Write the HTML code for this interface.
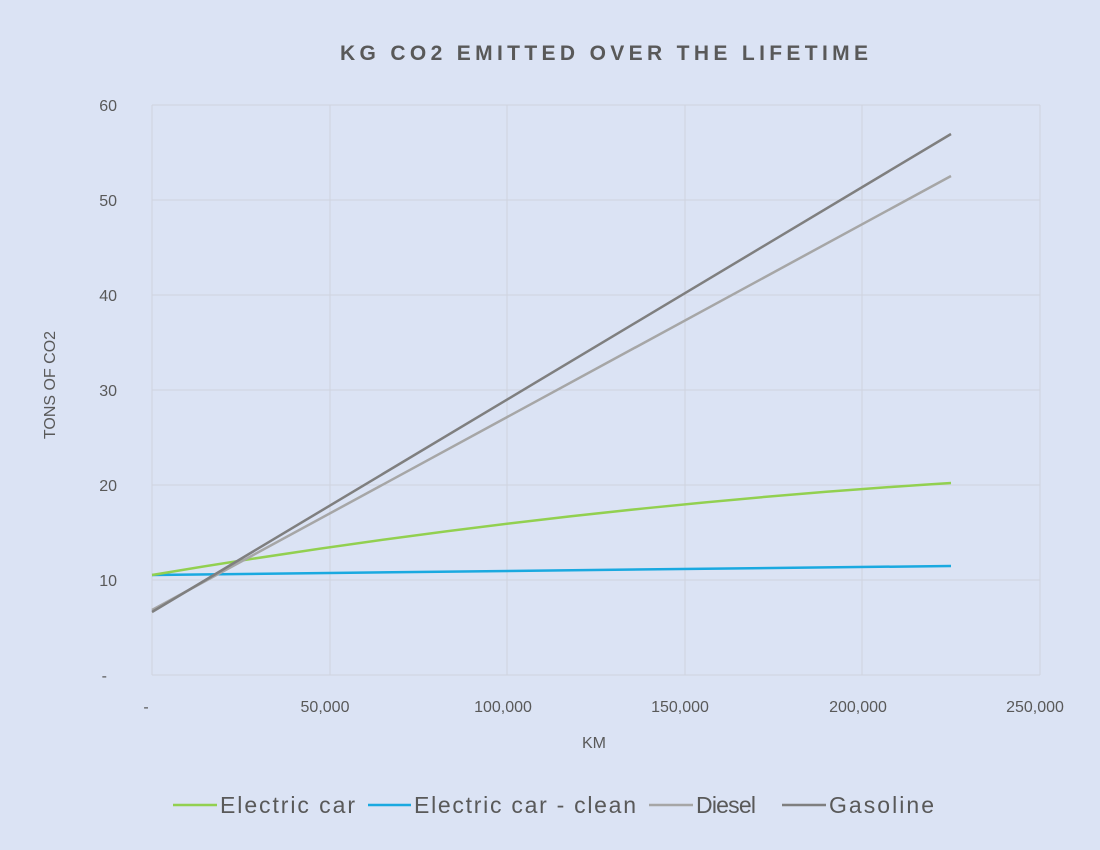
<!DOCTYPE html><html><head><style>body{margin:0;background:#dbe3f4;}svg{display:block}</style></head><body>
<svg width="1100" height="850" xmlns="http://www.w3.org/2000/svg" font-family="Liberation Sans, sans-serif">
<rect width="1100" height="850" fill="#dbe3f4"/>
<text x="340" y="60" font-size="21" font-weight="bold" fill="#595959" textLength="528" lengthAdjust="spacing">KG CO2 EMITTED OVER THE LIFETIME</text>
<g stroke="#cfd3de" stroke-width="1">
<line x1="152" y1="105" x2="1040" y2="105"/><line x1="152" y1="200" x2="1040" y2="200"/><line x1="152" y1="295" x2="1040" y2="295"/><line x1="152" y1="390" x2="1040" y2="390"/><line x1="152" y1="485" x2="1040" y2="485"/><line x1="152" y1="580" x2="1040" y2="580"/><line x1="152" y1="675" x2="1040" y2="675"/>
<line x1="152" y1="105" x2="152" y2="675"/><line x1="330" y1="105" x2="330" y2="675"/><line x1="507" y1="105" x2="507" y2="675"/><line x1="685" y1="105" x2="685" y2="675"/><line x1="862" y1="105" x2="862" y2="675"/><line x1="1040" y1="105" x2="1040" y2="675"/>
</g>
<g font-size="16" fill="#595959" text-anchor="end">
<text x="117" y="111">60</text><text x="117" y="206">50</text><text x="117" y="301">40</text><text x="117" y="396">30</text><text x="117" y="491">20</text><text x="117" y="586">10</text><text x="107" y="681">-</text>
</g>
<g font-size="16" fill="#595959" text-anchor="middle">
<text x="146" y="712">-</text><text x="325" y="712">50,000</text><text x="503" y="712">100,000</text><text x="680" y="712">150,000</text><text x="858" y="712">200,000</text><text x="1035" y="712">250,000</text>
<text x="594" y="748">KM</text>
</g>
<text transform="translate(55,385) rotate(-90)" text-anchor="middle" font-size="16" fill="#595959">TONS OF CO2</text>
<g fill="none" stroke-width="2.5">
<polyline stroke="#1aa9e0" points="152,575 951,566"/>
<path stroke="#92d050" d="M152,575 Q551,508 951,483"/>
<polyline stroke="#a6a6a6" points="152,610 951,176"/>
<polyline stroke="#7f7f7f" points="152,612 951,134"/>
</g>
<g font-size="23" fill="#595959">
<line x1="173" y1="805" x2="217" y2="805" stroke="#92d050" stroke-width="2.5"/><text x="220" y="813" textLength="135" lengthAdjust="spacing">Electric car</text>
<line x1="368" y1="805" x2="411" y2="805" stroke="#1aa9e0" stroke-width="2.5"/><text x="414" y="813" textLength="222" lengthAdjust="spacing">Electric car - clean</text>
<line x1="649" y1="805" x2="693" y2="805" stroke="#a6a6a6" stroke-width="2.5"/><text x="696" y="813" textLength="60" lengthAdjust="spacing">Diesel</text>
<line x1="782" y1="805" x2="826" y2="805" stroke="#7f7f7f" stroke-width="2.5"/><text x="829" y="813" textLength="105" lengthAdjust="spacing">Gasoline</text>
</g>
</svg></body></html>
